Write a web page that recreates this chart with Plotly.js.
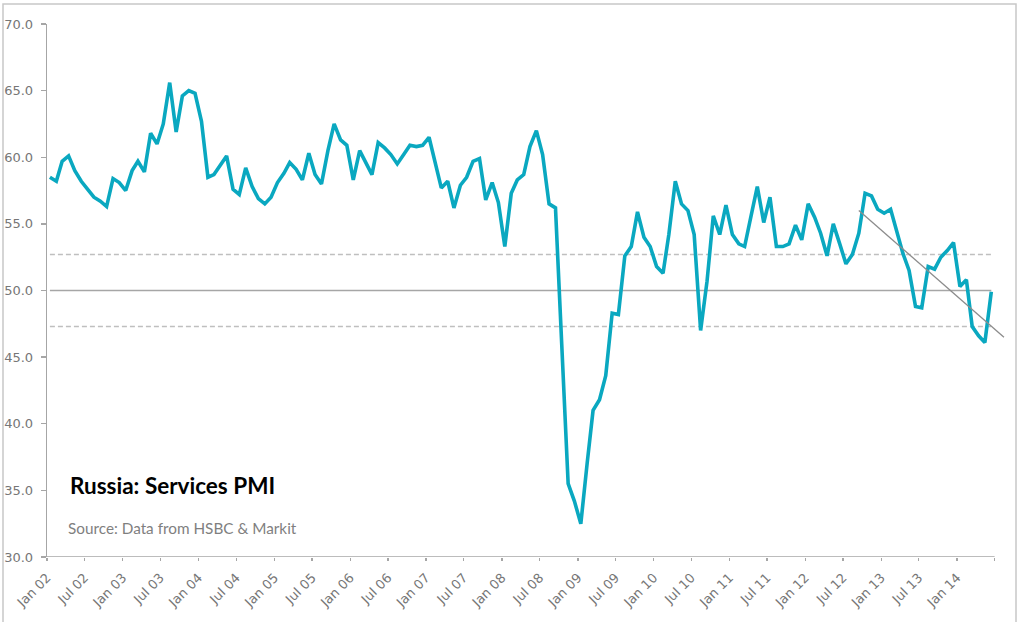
<!DOCTYPE html>
<html>
<head>
<meta charset="utf-8">
<script src="https://cdn.plot.ly/plotly-3.0.1.min.js"></script>
<style>
  html, body { margin: 0; padding: 0; background: #ffffff; }
  #chart { width: 1019px; height: 622px; }
</style>
</head>
<body>
<div id="chart"></div>
<script>
// Russia services PMI, monthly, Jan 2002 - Jun 2014
const startYear = 2002;
const pmi = [
  58.5, 58.2, 59.7, 60.1, 59.0, 58.2, 57.6, 57.0, 56.7, 56.3, 58.4, 58.1, // 2002
  57.5, 59.0, 59.7, 58.9, 61.8, 61.0, 62.5, 65.6, 61.9, 64.6, 65.0, 64.8, // 2003
  62.7, 58.5, 58.7, 59.4, 60.1, 57.6, 57.2, 59.2, 57.8, 56.9, 56.5, 57.0, // 2004
  58.1, 58.8, 59.6, 59.1, 58.3, 60.3, 58.7, 58.0, 60.5, 62.5, 61.3, 60.9, // 2005
  58.3, 60.5, 59.6, 58.7, 61.1, 60.7, 60.2, 59.5, 60.2, 60.9, 60.8, 60.9, // 2006
  61.5, 59.6, 57.7, 58.2, 56.2, 57.9, 58.5, 59.7, 59.9, 56.8, 58.1, 56.6, // 2007
  53.3, 57.3, 58.3, 58.7, 60.8, 62.0, 60.2, 56.5, 56.2, 46.0, 35.5, 34.2, // 2008
  32.5, 37.1, 41.0, 41.8, 43.6, 48.3, 48.2, 52.6, 53.3, 55.9, 54.0, 53.3, // 2009
  51.8, 51.3, 54.2, 58.2, 56.5, 56.0, 54.2, 47.0, 50.7, 55.6, 54.2, 56.4, // 2010
  54.2, 53.5, 53.3, 55.6, 57.8, 55.1, 57.0, 53.3, 53.3, 53.5, 54.9, 53.8, // 2011
  56.5, 55.5, 54.3, 52.6, 55.0, 53.5, 52.0, 52.7, 54.3, 57.3, 57.1, 56.1, // 2012
  55.8, 56.1, 54.5, 52.8, 51.5, 48.8, 48.7, 51.8, 51.6, 52.5, 53.0, 53.6, // 2013
  50.3, 50.8, 47.3, 46.6, 46.1, 49.9                                      // 2014
];

// reference levels
const upperBand = 52.7;
const midLine = 50.0;
const lowerBand = 47.3;

// linear trend drawn from Sep 12, projected past the last month
const trendDates = ["2012-09-15", "2014-08-15"];
const trendValues = [56.0, 46.5];

const tickDates = [
  "2002-01-01", "2002-07-01", "2003-01-01", "2003-07-01", "2004-01-01",
  "2004-07-01", "2005-01-01", "2005-07-01", "2006-01-01", "2006-07-01",
  "2007-01-01", "2007-07-01", "2008-01-01", "2008-07-01", "2009-01-01",
  "2009-07-01", "2010-01-01", "2010-07-01", "2011-01-01", "2011-07-01",
  "2012-01-01", "2012-07-01", "2013-01-01", "2013-07-01", "2014-01-01",
  "2014-07-01"
];
const tickLabels = [
  "Jan 02", "Jul 02", "Jan 03", "Jul 03", "Jan 04", "Jul 04", "Jan 05",
  "Jul 05", "Jan 06", "Jul 06", "Jan 07", "Jul 07", "Jan 08", "Jul 08",
  "Jan 09", "Jul 09", "Jan 10", "Jul 10", "Jan 11", "Jul 11", "Jan 12",
  "Jul 12", "Jan 13", "Jul 13", "Jan 14", ""
];

// one point per month, placed mid-month so labels sit on the month boundary
const months = pmi.map((_, i) => {
  const y = startYear + Math.floor(i / 12);
  const m = (i % 12) + 1;
  return y + "-" + String(m).padStart(2, "0") + "-15";
});

const W = 1019, H = 622;
const M = { l: 47, r: 14, t: 24, b: 65 };
const pw = W - M.l - M.r, ph = H - M.t - M.b;
const px = (x) => (x - M.l) / pw;
const py = (y) => 1 - (y - M.t) / ph;

const axisGrey = "#a6a6a6";
const tickFont = { family: "Verdana, DejaVu Sans", size: 13, color: "#767676" };

const flat = (v) => months.map(() => v);

const traces = [
  {
    x: months, y: flat(upperBand), type: "scatter", mode: "lines",
    line: { color: "#bfbfbf", width: 1.3, dash: "5px,3px" }, hoverinfo: "skip",
  },
  {
    x: months, y: flat(lowerBand), type: "scatter", mode: "lines",
    line: { color: "#bfbfbf", width: 1.3, dash: "5px,3px" }, hoverinfo: "skip",
  },
  {
    x: months, y: flat(midLine), type: "scatter", mode: "lines",
    line: { color: "#a6a6a6", width: 1.6 }, hoverinfo: "skip",
  },
  {
    x: months, y: pmi, type: "scatter", mode: "lines", name: "Services PMI",
    line: { color: "#0aa8c0", width: 3.6, shape: "linear" },
  },
  {
    x: trendDates, y: trendValues, type: "scatter", mode: "lines",
    line: { color: "#8c8c8c", width: 1.3 }, hoverinfo: "skip",
  },
];

const layout = {
  width: W, height: H,
  margin: M,
  paper_bgcolor: "#ffffff",
  plot_bgcolor: "#ffffff",
  showlegend: false,
  font: { family: "DejaVu Sans" },
  xaxis: {
    type: "date",
    range: ["2002-01-01", "2014-08-20"],
    tickmode: "array",
    tickvals: tickDates,
    ticktext: tickLabels,
    tickangle: -45,
    ticks: "outside", ticklen: 3, tickwidth: 1.3, tickcolor: axisGrey,
    ticklabelstandoff: 4,
    showline: false, showgrid: false, zeroline: false,
    tickfont: tickFont,
  },
  yaxis: {
    range: [30, 70],
    dtick: 5, tick0: 30,
    tickformat: ".1f",
    ticks: "outside", ticklen: 5, tickwidth: 1.3, tickcolor: axisGrey,
    ticklabelstandoff: 5,
    showline: true, linecolor: axisGrey, linewidth: 1.3,
    showgrid: false, zeroline: false,
    tickfont: tickFont,
  },
  shapes: [
    // x axis line stops at the last month boundary
    {
      type: "line", xref: "x", yref: "y",
      x0: "2002-01-01", x1: "2014-07-01", y0: 30, y1: 30,
      line: { color: axisGrey, width: 1.3 },
    },
    // outer chart frame
    {
      type: "rect", xref: "paper", yref: "paper",
      x0: px(3), x1: px(1016), y0: py(640), y1: py(4),
      line: { color: "#c8c8c8", width: 1.5 },
    },
  ],
  annotations: [
    {
      text: "<b>Russia: Services PMI</b>",
      xref: "paper", yref: "paper", x: px(68), y: py(485),
      xanchor: "left", yanchor: "middle", showarrow: false,
      font: { family: "Lato", size: 22.5, color: "#000000" },
    },
    {
      text: "Source: Data from HSBC &amp; Markit",
      xref: "paper", yref: "paper", x: px(66), y: py(528),
      xanchor: "left", yanchor: "middle", showarrow: false,
      font: { family: "Lato", size: 15.3, color: "#7f7f7f" },
    },
  ],
};

Plotly.newPlot("chart", traces, layout, { displayModeBar: false, staticPlot: true });
</script>
</body>
</html>
